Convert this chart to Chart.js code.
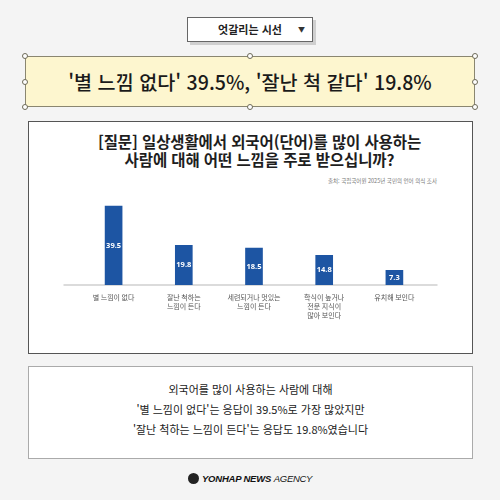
<!DOCTYPE html>
<html lang="ko">
<head>
<meta charset="utf-8">
<script src="https://cdn.jsdelivr.net/npm/chart.js@4/dist/chart.umd.min.js"></script>
<style>
  html, body { margin: 0; padding: 0; }
  body {
    width: 500px; height: 500px; position: relative; overflow: hidden;
    background: #f4f4f4;
    font-family: "Noto Sans CJK KR", "Noto Sans", sans-serif;
  }
  .abs { position: absolute; }
  #dropdown {
    left: 187px; top: 17px; width: 126px; height: 25px; box-sizing: border-box;
    background: #fff; border: 1px solid #666; box-shadow: 3px 3px 0 #cfcfcf;
    font-size: 11px; font-weight: 700; color: #222; line-height: 23px; text-align: center;
  }
  #dropdown .arrow { position: absolute; right: 7px; top: 0; font-size: 7px; color: #333; }
  #banner {
    left: 25px; top: 56px; width: 450px; height: 51px; box-sizing: border-box;
    background: #fdf6cf; border: 1px solid #8a8670;
    font-size: 19.6px; font-weight: 500; color: #1a1a1a; line-height: 49px; text-align: center;
  }
  .handle {
    position: absolute; width: 4px; height: 4px; border-radius: 50%;
    background: #fff; border: 1px solid #6d6a58;
  }
  #panel {
    left: 28px; top: 121px; width: 445px; height: 233px; box-sizing: border-box;
    background: #fff; border: 1px solid #555;
  }
  #qtitle {
    left: 47px; top: 132px; width: 425px; text-align: center;
    font-size: 15.5px; font-weight: 700; color: #1e1e1e; line-height: 18px;
    letter-spacing: -0.1px;
  }
  #source {
    left: 300px; top: 177px; width: 137px; text-align: right;
    font-size: 5.5px; color: #777; line-height: 8px;
  }
  #chartBox { left: 55px; top: 195px; width: 395px; height: 150px; }
  #summary {
    left: 28px; top: 366px; width: 445px; height: 93px; box-sizing: border-box;
    background: #fff; border: 1px solid #aaa;
    padding-top: 12px; text-align: center;
    font-size: 11px; color: #222; line-height: 20px;
  }
  #logo {
    left: 0; top: 471px; width: 500px; text-align: center; line-height: 16px;
    font-family: "Liberation Sans", "DejaVu Sans", sans-serif; font-size: 9.5px; color: #111;
  }
  #logo .icon {
    display: inline-block; width: 11px; height: 11px; border-radius: 50%;
    background: #222; vertical-align: -2px; margin-right: 3px;
  }
  #logo b { font-weight: 900; font-style: italic; letter-spacing: -0.2px; }
  #logo i { font-weight: 400; letter-spacing: -0.3px; }
</style>
</head>
<body>

<div id="dropdown" class="abs">엇갈리는 시선<span class="arrow">▼</span></div>

<div id="banner" class="abs">'별 느낌 없다' 39.5%, '잘난 척 같다' 19.8%</div>
<div class="handle" style="left:22px;top:53px"></div>
<div class="handle" style="left:247px;top:53px"></div>
<div class="handle" style="left:472px;top:53px"></div>
<div class="handle" style="left:22px;top:79px"></div>
<div class="handle" style="left:472px;top:79px"></div>
<div class="handle" style="left:22px;top:104px"></div>
<div class="handle" style="left:247px;top:104px"></div>
<div class="handle" style="left:472px;top:104px"></div>

<div id="panel" class="abs"></div>
<div id="qtitle" class="abs">[질문] 일상생활에서 외국어(단어)를 많이 사용하는<br>사람에 대해 어떤 느낌을 주로 받으십니까?</div>
<div id="source" class="abs">출처: 국립국어원 2025년 국민의 언어 의식 조사</div>

<div id="chartBox" class="abs"><canvas id="myChart" width="395" height="150"></canvas></div>

<div id="summary" class="abs">외국어를 많이 사용하는 사람에 대해<br>'별 느낌이 없다'는 응답이 39.5%로 가장 많았지만<br>'잘난 척하는 느낌이 든다'는 응답도 19.8%였습니다</div>

<div id="logo" class="abs"><span class="icon"></span><b>YONHAP NEWS</b> <i>AGENCY</i></div>

<script>
'use strict';

//////////////////////
// data
//////////////////////

const answerLabels = [
  '별 느낌이 없다',
  ['잘난 척하는', '느낌이 든다'],
  ['세련되거나 멋있는', '느낌이 든다'],
  ['학식이 높거나', '전문 지식이', '많아 보인다'],
  '유치해 보인다'
];
const answerShares = [39.5, 19.8, 18.5, 14.8, 7.3];

//////////////////////
// plugins
//////////////////////

// long grey baseline under the bars
const baseLine = {
  id: 'baseLine',
  beforeDatasetsDraw(chart) {
    const ctx = chart.ctx;
    const area = chart.chartArea;
    const y0 = chart.scales.y.getPixelForValue(0);
    ctx.save();
    ctx.strokeStyle = '#cfcfcf';
    ctx.lineWidth = 1.5;
    ctx.beginPath();
    ctx.moveTo(area.left - 15, y0);
    ctx.lineTo(area.right + 8, y0);
    ctx.stroke();
    ctx.restore();
  }
};

// value printed in the middle of each bar
const barValues = {
  id: 'barValues',
  afterDatasetsDraw(chart) {
    const ctx = chart.ctx;
    const meta = chart.getDatasetMeta(0);
    ctx.save();
    ctx.fillStyle = '#ffffff';
    ctx.font = 'bold 7.5px "Noto Sans", sans-serif';
    ctx.textAlign = 'center';
    ctx.textBaseline = 'middle';
    meta.data.forEach((bar, i) => {
      ctx.fillText(answerShares[i].toFixed(1), bar.x, (bar.y + bar.base) / 2);
    });
    ctx.restore();
  }
};

//////////////////////
// chart
//////////////////////

const config = {
  type: 'bar',
  data: {
    labels: answerLabels,
    datasets: [{
      data: answerShares,
      backgroundColor: '#1d55a3',
      barThickness: 17
    }]
  },
  options: {
    responsive: false,
    animation: false,
    devicePixelRatio: 1,
    layout: { padding: { left: 23.5, right: 20.5, top: 5, bottom: 0 } },
    plugins: {
      legend: { display: false },
      tooltip: { enabled: false }
    },
    scales: {
      x: {
        grid: { display: false, drawTicks: false },
        border: { display: false },
        ticks: {
          padding: 8,
          color: '#555',
          font: { size: 7, family: '"Noto Sans CJK KR", sans-serif', lineHeight: 1.25 },
          maxRotation: 0,
          autoSkip: false
        },
        afterFit(scale) { scale.height = 60; }
      },
      y: {
        display: false,
        min: 0,
        max: 42.5
      }
    }
  },
  plugins: [baseLine, barValues]
};

const myChart = new Chart(document.getElementById('myChart'), config);
</script>
</body>
</html>
